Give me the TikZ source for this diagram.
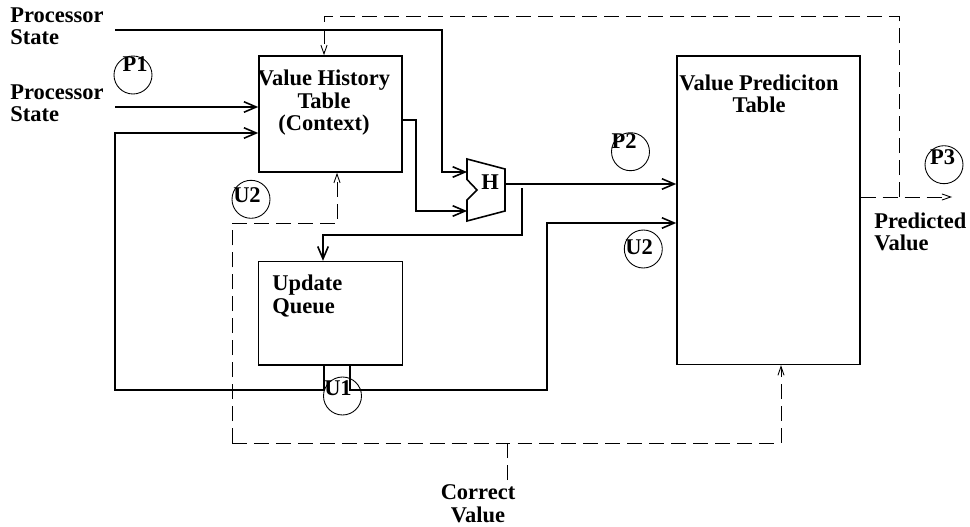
\documentclass[tikz,border=0pt]{standalone}
\usepackage{fontspec}
\setmainfont{Liberation Serif}
\usetikzlibrary{arrows.meta}
\usetikzlibrary{positioning}
\tikzset{wire/.style = {line width=0.9pt, -{Straight Barb[length=7pt,width=6pt]}}}
\tikzset{dwire/.style = {line width=0.5pt, dash pattern=on 8.5pt off 4pt, -{Straight Barb[length=5pt,width=3.5pt]}}}
\tikzset{box/.style = {draw, line width=0.9pt, inner sep=0}}
\tikzset{ring/.style = {draw, circle, line width=0.5pt, inner sep=0, minimum size=0.76cm}}
\tikzset{txt/.style = {font=\fontsize{12.8}{12.8}\selectfont\bfseries, inner sep=0, align=left}}

\begin{document}
\begin{tikzpicture}[x=0.02cm, y=-0.02cm]
  \useasboundingbox (0,0) rectangle (970,527);
  % tables and queue
  \node [box, minimum width=2.86cm, minimum height=2.32cm] (vht) at (330.5,114) {};
  \node [box, minimum width=3.66cm, minimum height=6.17cm] (vpt) at (768.5,210.2) {};
  \node [box, minimum width=2.88cm, minimum height=2.07cm] (uq) at (330.5,313.3) {};
  % hash unit
  \draw [line width=0.9pt] (467,159) -- (505,169) -- (505,211) -- (467,221) -- (467,200) -- (477,190) -- (467,179.5) -- cycle;
  \node [txt] (hlab) at (490,182.5) {H};
  \coordinate (hin1) at (467,172);
  \coordinate (hin2) at (467,211);
  \coordinate (hout) at (505,184);
  % free ends
  \coordinate (in1) at (115,30);
  \coordinate (in2) at (115,107);
  \coordinate (br) at (522,188);
  \coordinate (tap) at (899,197);
  \coordinate (out) at (952,197);
  \coordinate (cl) at (232,443);
  \coordinate (j) at (507,443);
  \coordinate (cv) at (507,480);
  % texts
  \node [txt, anchor=west] (ps1) at (10,26) {Processor\\State};
  \node [txt, anchor=west] (ps2) at (10,103.5) {Processor\\State};
  \node [txt, align=center] (vhtlab) at (324,103) {Value History\\Table\\(Context)};
  \node [txt, align=center] (vptlab) at (759,94) {Value Prediciton\\Table};
  \node [txt, anchor=west] (uqlab) at (272,296) {Update\\Queue};
  \node [txt, anchor=west] (pv) at (874,232) {Predicted\\Value};
  \node [txt, align=center] (cvlab) at (478,503.5) {Correct\\Value};
  % solid paths
  \draw [wire] (in1) -| ([xshift=-0.5cm]hin1) -- (hin1);
  \draw [wire] (in2) -- (vht.west |- in2);
  \draw [wire] ([yshift=-0.12cm]vht.east) -| ([xshift=-1.02cm]hin2) -- (hin2);
  \draw [wire] (hout) -- (vpt.west |- hout);
  \draw [wire] (br) |- ([xshift=-0.15cm,yshift=0.51cm]uq.north) -- ([xshift=-0.15cm]uq.north);
  \draw [wire] ([xshift=-0.13cm]uq.south) |- (115,390) |- (vht.west |- 0,133);
  \draw [wire] ([xshift=0.39cm]uq.south) |- (547,390) |- (vpt.west |- 0,223);
  % dashed paths
  \draw [dwire] (vpt.east |- tap) -- (out);
  \draw [dwire] (tap) |- ([xshift=-0.13cm,yshift=0.78cm]vht.north) -- ([xshift=-0.13cm]vht.north);
  \draw [dwire, -] (cv) -- (j);
  \draw [dwire] (cl) -| ([xshift=0.25cm]vpt.south);
  \draw [dwire] (cl) |- ([xshift=0.13cm,yshift=-1.02cm]vht.south) -- ([xshift=0.13cm]vht.south);
  % stage marks
  \node [ring] (p1c) at (133,75) {};
  \node [ring] (u2c) at (251,199.3) {};
  \node [ring] (u1c) at (342.5,396) {};
  \node [ring] (p2c) at (630.5,151.7) {};
  \node [ring] (u2rc) at (643.3,249) {};
  \node [ring] (p3c) at (944,164.7) {};
  \node [txt] (p1) at (135,64.5) {P1};
  \node [txt] (u2) at (247,195.5) {U2};
  \node [txt] (u1) at (338,388) {U1};
  \node [txt] (p2) at (624,140.8) {P2};
  \node [txt] (u2r) at (639,246.7) {U2};
  \node [txt] (p3) at (942.5,157.5) {P3};
\end{tikzpicture}
\end{document}
